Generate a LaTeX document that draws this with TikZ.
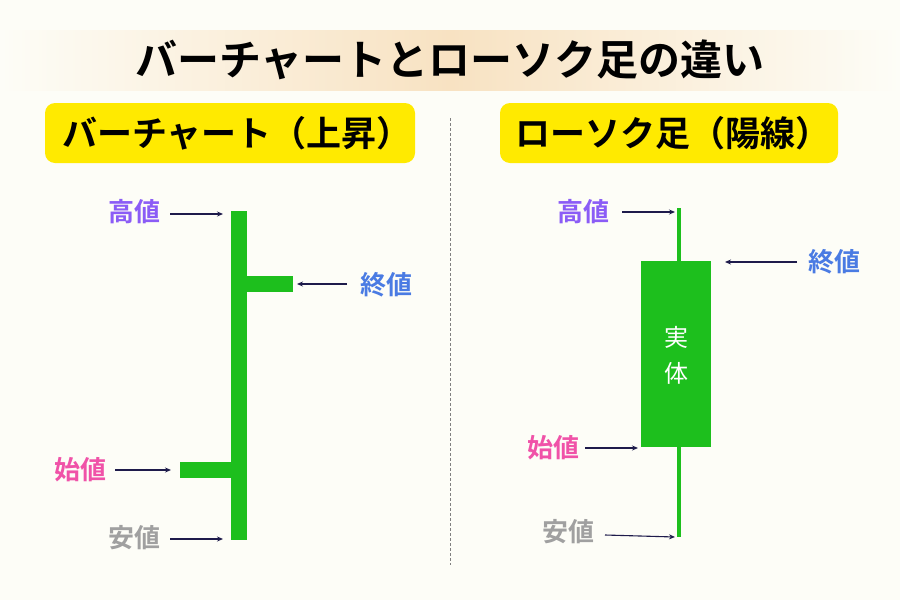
\documentclass[tikz,border=0pt]{standalone}
\usepackage{fontspec}
\usetikzlibrary{arrows.meta}
\setmainfont{Noto Sans CJK JP Bold}
\newfontfamily\regjp{Noto Sans CJK JP}
\begin{document}
\begin{tikzpicture}[x=1pt,y=-1pt,
  bar/.style={fill=barg,draw=none},
  lbl/.style={font=\fontsize{26}{28}\selectfont,inner sep=0pt},
  arr/.style={draw=navy,line width=1.1pt,-{Stealth[length=6pt,width=5pt]}},
  hd/.style={fill=hdy,rounded corners=10pt,draw=none}]
\definecolor{bgc}{HTML}{FDFDF7}
\definecolor{barg}{HTML}{1DBF1D}
\definecolor{navy}{HTML}{1E1B4B}
\definecolor{hdy}{HTML}{FFEA00}
\definecolor{purp}{HTML}{8B5CF6}
\definecolor{bluec}{HTML}{4A7BE3}
\definecolor{pinkc}{HTML}{F052A8}
\definecolor{grayc}{HTML}{A0A0A0}
\definecolor{glow}{HTML}{F8E2C2}
\fill[bgc] (0,0) rectangle (900,600);
\useasboundingbox (0,0) rectangle (900,600);
\shade[left color=bgc,right color=glow,draw=none] (0,30) rectangle (450,90);
\shade[left color=glow,right color=bgc,draw=none] (450,30) rectangle (900,90);
\node[font=\fontsize{42}{46}\selectfont] (title) at (450,60) {バーチャートとローソク足の違い};
\fill[hd] (45,103) rectangle (415,163);
\node[font=\fontsize{35}{38}\selectfont,anchor=west,inner sep=0pt] (hl) at (62,133) {バーチャート（上昇）};
\fill[hd] (500,103) rectangle (838,163);
\node[font=\fontsize{35}{38}\selectfont,anchor=west,inner sep=0pt] (hr) at (515,133) {ローソク足（陽線）};
\draw[gray,dash pattern=on 3pt off 2pt,line width=0.6pt] (450,118) -- (450,565);
% left bar chart
\fill[bar] (231,211) rectangle (247,540);
\fill[bar] (247,276) rectangle (293,292);
\fill[bar] (180,462) rectangle (231,478);
\node[lbl,text=purp] (lh) at (134,212) {高値};
\node[lbl,text=bluec] (lc) at (386,285) {終値};
\node[lbl,text=pinkc] (lo) at (80,470) {始値};
\node[lbl,text=grayc] (ll) at (134,538) {安値};
\coordinate (lhs) at (170,214); \coordinate (lha) at (223,214);
\coordinate (lcs) at (347,284); \coordinate (lca) at (297,284);
\coordinate (los) at (115,470); \coordinate (loa) at (171,470);
\coordinate (lls) at (170,539); \coordinate (lla) at (223,539);
\draw[arr] (lhs) -- (lha);
\draw[arr] (lcs) -- (lca);
\draw[arr] (los) -- (loa);
\draw[arr] (lls) -- (lla);
% candlestick
\fill[bar] (677,208) rectangle (681,537);
\fill[bar] (641,261) rectangle (711,447);
\node[font=\fontsize{24}{36}\selectfont\regjp,text=white,align=center] (body) at (676,355) {実\\体};
\node[lbl,text=purp] (rh) at (583,212) {高値};
\node[lbl,text=bluec] (rc) at (834,262) {終値};
\node[lbl,text=pinkc] (ro) at (553,448) {始値};
\node[lbl,text=grayc] (rl) at (568,532) {安値};
\coordinate (rhs) at (622,212); \coordinate (rha) at (675,212);
\coordinate (rcs) at (797,262); \coordinate (rca) at (725,262);
\coordinate (ros) at (585,448); \coordinate (roa) at (638,448);
\coordinate (rls) at (605,535); \coordinate (rla) at (675,537);
\draw[arr] (rhs) -- (rha);
\draw[arr] (rcs) -- (rca);
\draw[arr] (ros) -- (roa);
\draw[arr] (rls) -- (rla);
\end{tikzpicture}
\end{document}
